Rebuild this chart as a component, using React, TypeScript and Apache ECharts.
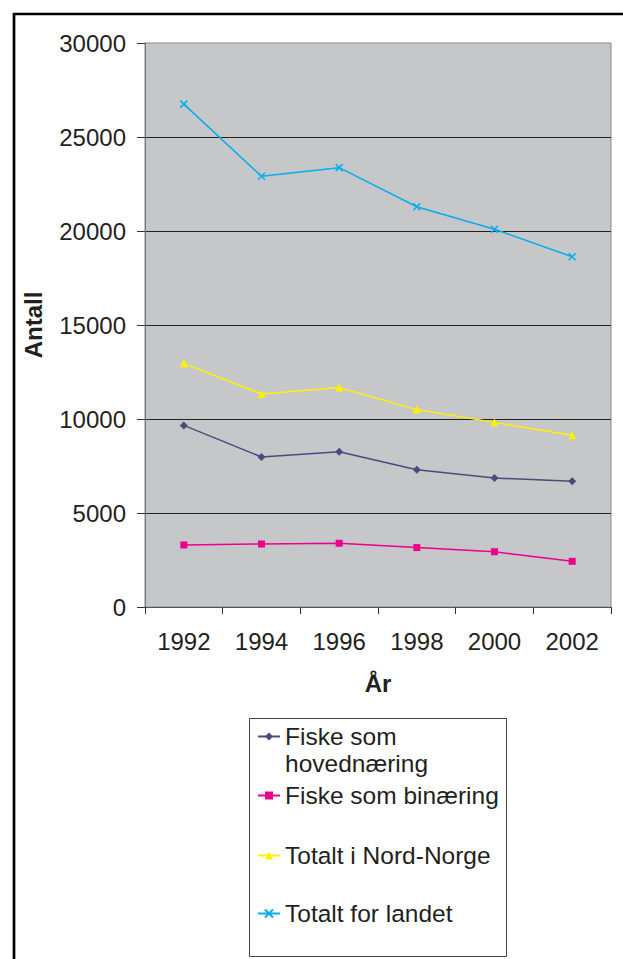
import React, { useEffect, useRef } from "react";
import * as echarts from "echarts";

const categories = ["1992", "1994", "1996", "1998", "2000", "2002"];
const hovedValues = [9660, 7980, 8260, 7300, 6860, 6690];
const binValues = [3300, 3350, 3390, 3160, 2940, 2430];
const nordNorgeValues = [12960, 11330, 11670, 10500, 9820, 9130];
const landetValues = [26750, 22910, 23370, 21290, 20090, 18630];
const seriesNames = [
  "Fiske som hovednæring",
  "Fiske som binæring",
  "Totalt i Nord-Norge",
  "Totalt for landet",
];
const yMin = 0;
const yMax = 30000;
const yInterval = 5000;
const xAxisName = "År";
const yAxisName = "Antall";

const FONT = "'Liberation Sans', Arial, Helvetica, sans-serif";
const TEXT = "#231f20";

export default function App() {
  const ref = useRef<HTMLDivElement>(null);
  useEffect(() => {
    document.body.style.margin = "0";
    const chart = echarts.init(ref.current!, null, { renderer: "svg" });
    const legendBase: any = {
      orient: "vertical",
      left: 257,
      padding: 0,
      itemWidth: 22,
      itemHeight: 10,
      itemGap: 0,
      selectedMode: false,
      textStyle: { fontSize: 24.5, color: TEXT, fontFamily: FONT, lineHeight: 27 },
    };
    const option: any = {
      animation: false,
      backgroundColor: "#ffffff",
      grid: {
        left: 145,
        right: 12,
        top: 43,
        bottom: 352,
        show: true,
        backgroundColor: "#c6c7c9",
        borderColor: "#8a8a8a",
        borderWidth: 1,
      },
      xAxis: {
        type: "category",
        data: categories,
        boundaryGap: true,
        name: xAxisName,
        nameLocation: "middle",
        nameGap: 64,
        nameTextStyle: { fontSize: 24, fontWeight: "bold", color: TEXT, fontFamily: FONT },
        axisLine: { show: true, lineStyle: { color: "#555", width: 1 } },
        axisTick: { show: true, inside: false, length: 7, interval: 0, lineStyle: { color: "#333" } },
        axisLabel: { margin: 22, fontSize: 24, color: TEXT, fontFamily: FONT, interval: 0 },
        splitLine: { show: false },
      },
      yAxis: {
        type: "value",
        min: yMin,
        max: yMax,
        interval: yInterval,
        name: yAxisName,
        nameLocation: "middle",
        nameGap: 100,
        nameTextStyle: { fontSize: 24, fontWeight: "bold", color: TEXT, fontFamily: FONT },
        axisLine: { show: true, lineStyle: { color: "#777", width: 1 } },
        axisTick: { show: true, inside: false, length: 8, lineStyle: { color: "#333" } },
        axisLabel: {
          margin: 19,
          fontSize: 24,
          color: TEXT,
          fontFamily: FONT,
          formatter: (v: number) => String(v),
        },
        splitLine: { show: true, showMaxLine: false, lineStyle: { color: "#222", width: 1 } },
      },
      legend: [
        {
          ...legendBase,
          top: 696,
          data: [seriesNames[0]],
          formatter: () => "\nFiske som\nhovednæring",
        },
        { ...legendBase, top: 782, data: [seriesNames[1]] },
        { ...legendBase, top: 842, data: [seriesNames[2]] },
        { ...legendBase, top: 900, data: [seriesNames[3]] },
      ],
      graphic: [
        {
          type: "polyline",
          shape: { points: [[14, 1000], [14, 14], [700, 14]] },
          style: { stroke: "#000", lineWidth: 2.7, fill: null },
          silent: true,
        },
        {
          type: "rect",
          shape: { x: 249.5, y: 718.5, width: 257, height: 238 },
          style: { stroke: "#444", lineWidth: 1, fill: "transparent" },
          silent: true,
        },
      ],
      series: [
        {
          name: seriesNames[0],
          type: "line",
          data: hovedValues,
          symbol: "diamond",
          symbolSize: 8,
          color: "#4b4a7c",
          lineStyle: { color: "#4b4a7c", width: 1.5 },
          itemStyle: { color: "#4b4a7c" },
        },
        {
          name: seriesNames[1],
          type: "line",
          data: binValues,
          symbol: "rect",
          symbolSize: 7,
          color: "#ec008c",
          lineStyle: { color: "#ec008c", width: 1.5 },
          itemStyle: { color: "#ec008c" },
        },
        {
          name: seriesNames[2],
          type: "line",
          data: nordNorgeValues,
          symbol: "triangle",
          symbolSize: 8,
          color: "#fff200",
          lineStyle: { color: "#fff200", width: 1.5 },
          itemStyle: { color: "#fff200" },
        },
        {
          name: seriesNames[3],
          type: "line",
          data: landetValues,
          symbol: "path://M0,0L10,10M10,0L0,10",
          symbolSize: 7,
          color: "#00aeef",
          lineStyle: { color: "#00aeef", width: 1.5 },
          itemStyle: { color: "#00aeef", borderColor: "#00aeef", borderWidth: 1.5 },
        },
      ],
    };
    chart.setOption(option);
    return () => chart.dispose();
  }, []);
  return <div ref={ref} style={{ width: 623, height: 959 }} />;
}
